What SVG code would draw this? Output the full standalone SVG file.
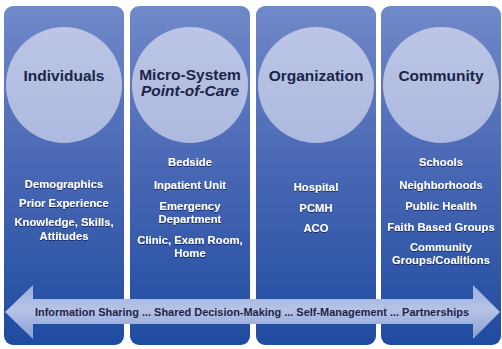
<svg xmlns="http://www.w3.org/2000/svg" width="502" height="349" viewBox="0 0 502 349">
<defs>
<linearGradient id="colGrad" x1="0" y1="0" x2="0" y2="1">
<stop offset="0" stop-color="#7089c9"/>
<stop offset="0.45" stop-color="#4b69b5"/>
<stop offset="1" stop-color="#1f4ba0"/>
</linearGradient>
<linearGradient id="circGrad" x1="0" y1="0" x2="0" y2="1">
<stop offset="0" stop-color="#bcc5e5"/>
<stop offset="1" stop-color="#adb9df"/>
</linearGradient>
<linearGradient id="arrGrad" x1="0" y1="0" x2="0" y2="1">
<stop offset="0" stop-color="#9aaedb"/>
<stop offset="0.45" stop-color="#b6c3e6"/>
<stop offset="1" stop-color="#8a9ed2"/>
</linearGradient>
<filter id="txtShadow" x="-10%" y="-30%" width="120%" height="160%">
<feDropShadow dx="0" dy="1" stdDeviation="0.6" flood-color="#0c1f55" flood-opacity="0.8"/>
</filter>
</defs>
<style>
.col{fill:url(#colGrad);}
.circ{fill:url(#circGrad);}
.title{font-family:"Liberation Sans",Arial,sans-serif;font-weight:bold;font-size:15.5px;fill:#1c2547;text-anchor:middle;}
.ital{font-style:italic;}
.body{font-family:"Liberation Sans",Arial,sans-serif;font-weight:bold;font-size:11.3px;fill:#ffffff;text-anchor:middle;filter:url(#txtShadow);}
.arrtxt{font-family:"Liberation Sans",Arial,sans-serif;font-weight:bold;font-size:11px;fill:#1c2547;text-anchor:middle;}
</style>
<rect width="502" height="349" fill="#ffffff"/>
<g id="individuals">
<rect class="col" x="4" y="6" width="120" height="339" rx="9"/>
<circle class="circ" cx="64" cy="85" r="58"/>
<text class="title" x="64" y="81">Individuals</text>
<text class="body" x="64" y="188">Demographics</text>
<text class="body" x="64" y="207">Prior Experience</text>
<text class="body" x="64" y="226">Knowledge, Skills,</text>
<text class="body" x="64" y="240">Attitudes</text>
</g>
<g id="micro-system">
<rect class="col" x="130" y="6" width="120" height="339" rx="9"/>
<circle class="circ" cx="190" cy="85" r="58"/>
<text class="title" x="190" y="80">Micro-System</text>
<text class="title ital" x="190" y="96">Point-of-Care</text>
<text class="body" x="190" y="166">Bedside</text>
<text class="body" x="190" y="189">Inpatient Unit</text>
<text class="body" x="190" y="210">Emergency</text>
<text class="body" x="190" y="223">Department</text>
<text class="body" x="190" y="244">Clinic, Exam Room,</text>
<text class="body" x="190" y="257">Home</text>
</g>
<g id="organization">
<rect class="col" x="256" y="6" width="120" height="339" rx="9"/>
<circle class="circ" cx="316" cy="85" r="58"/>
<text class="title" x="316" y="81">Organization</text>
<text class="body" x="316" y="191">Hospital</text>
<text class="body" x="316" y="212">PCMH</text>
<text class="body" x="316" y="232">ACO</text>
</g>
<g id="community">
<rect class="col" x="381" y="6" width="120" height="339" rx="9"/>
<circle class="circ" cx="441" cy="85" r="58"/>
<text class="title" x="441" y="81">Community</text>
<text class="body" x="441" y="166">Schools</text>
<text class="body" x="441" y="189">Neighborhoods</text>
<text class="body" x="441" y="210">Public Health</text>
<text class="body" x="441" y="231">Faith Based Groups</text>
<text class="body" x="441" y="251">Community</text>
<text class="body" x="441" y="264">Groups/Coalitions</text>
</g>
<g id="connectors">
<path d="M5,312 L33,285 L33,299 L473,299 L473,285 L500,312 L473,339 L473,324 L33,324 L33,339 Z" fill="url(#arrGrad)"/>
<text class="arrtxt" x="252" y="316" textLength="434" lengthAdjust="spacingAndGlyphs">Information Sharing ... Shared Decision-Making ... Self-Management ... Partnerships</text>
</g>
</svg>
